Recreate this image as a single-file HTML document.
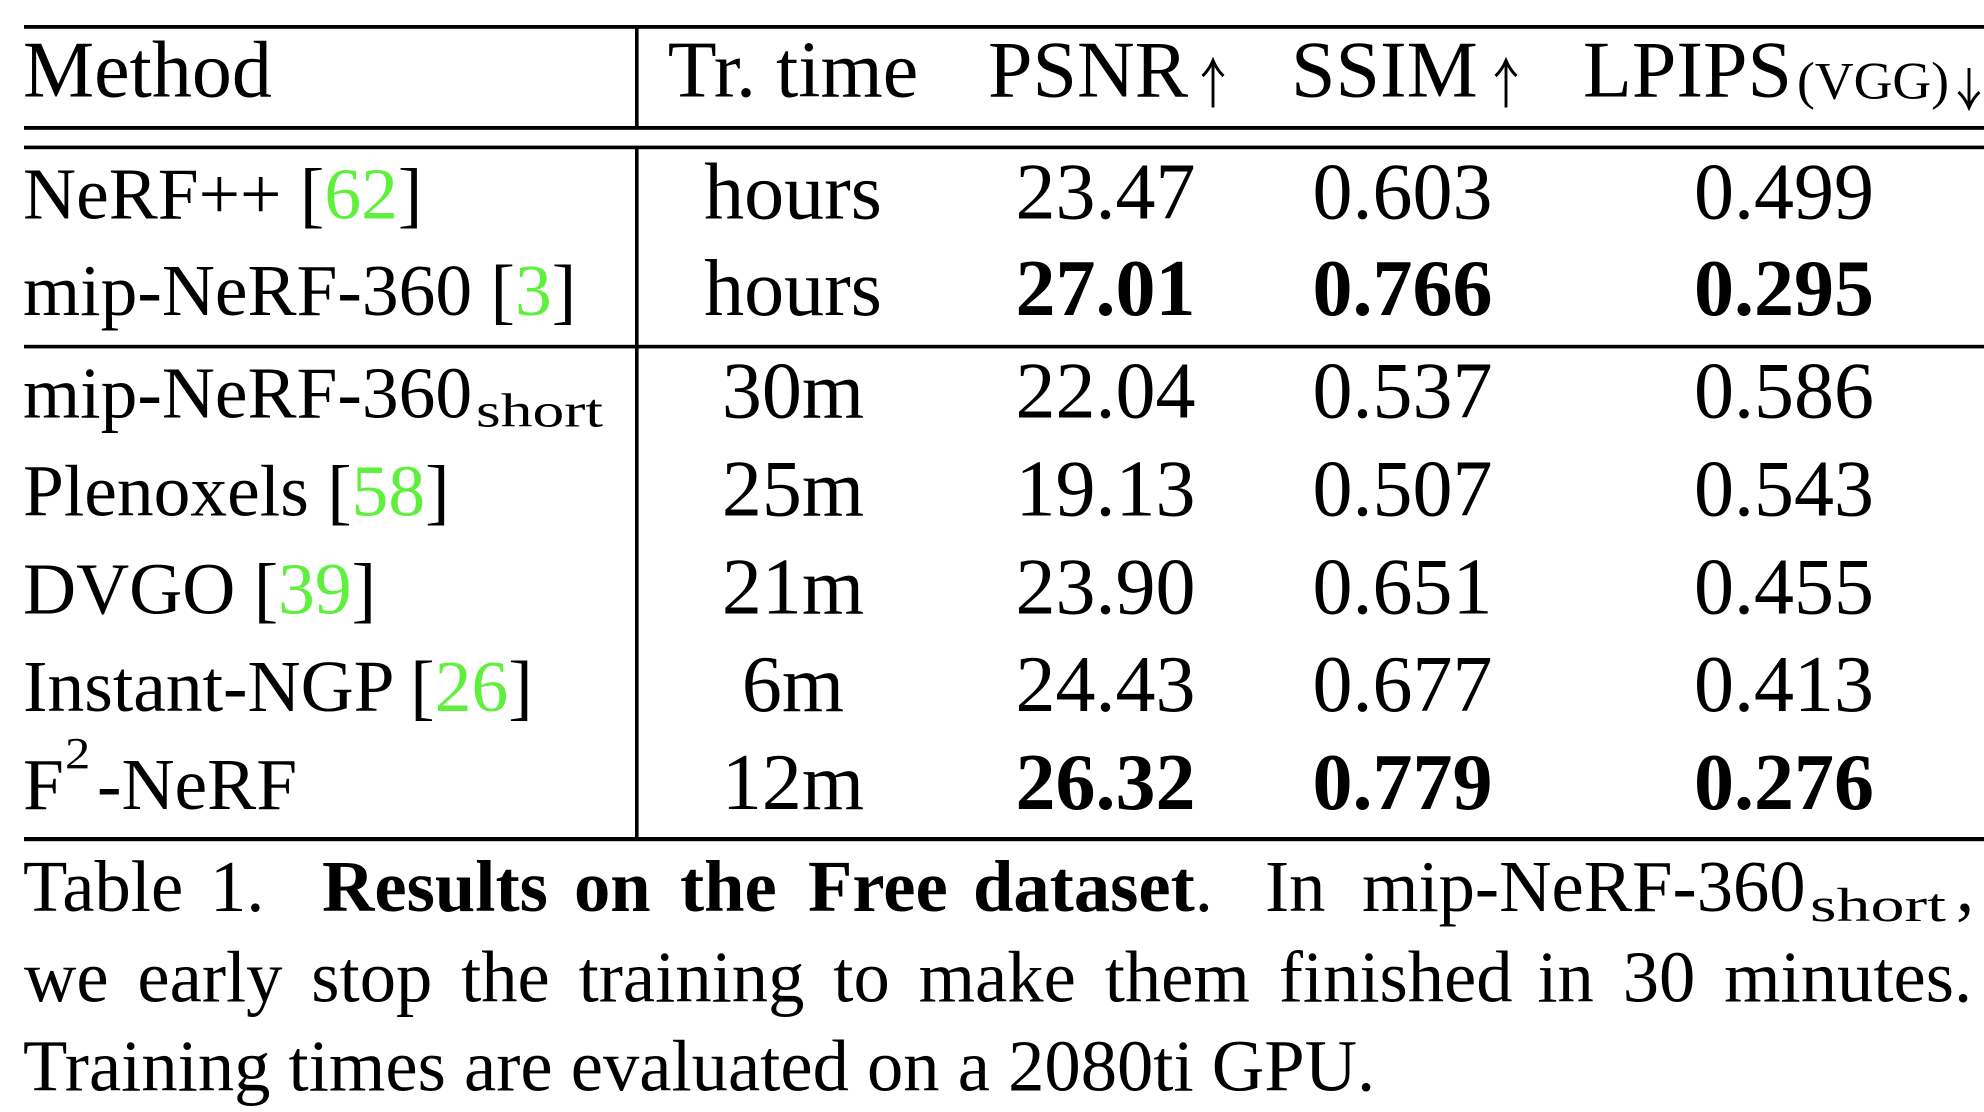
<!DOCTYPE html>
<html>
<head>
<meta charset="utf-8">
<style>
  html, body { margin: 0; padding: 0; background: #ffffff; }
  svg { display: block; }
  text { font-family: "Liberation Serif", "Times New Roman", serif; fill: #000; }
  .g { fill: #5ef03c; }
</style>
</head>
<body>
<svg width="1984" height="1112" viewBox="0 0 1984 1112" xmlns="http://www.w3.org/2000/svg">
  <rect x="0" y="0" width="1984" height="1112" fill="#ffffff"/>

  <!-- horizontal rules -->
  <rect x="24" y="25" width="1960" height="3.8" fill="#000"/>
  <rect x="24" y="126" width="1960" height="3.8" fill="#000"/>
  <rect x="24" y="145.6" width="1960" height="3.6" fill="#000"/>
  <rect x="24" y="344.8" width="1960" height="3.6" fill="#000"/>
  <rect x="24" y="837" width="1960" height="4.2" fill="#000"/>

  <!-- vertical rule -->
  <rect x="635" y="28" width="3.6" height="99" fill="#000"/>
  <rect x="635" y="148" width="3.6" height="690" fill="#000"/>

  <!-- header -->
  <text x="23" y="96.5" font-size="80">Method</text>
  <text x="793" y="96.5" font-size="80" text-anchor="middle">Tr. time</text>
  <text x="988" y="96.5" font-size="80">PSNR</text>
  <path d="M1213 63 L1213 107.5 M1202.5 76 Q1209 70 1213 60.5 Q1217 70 1223.5 76" fill="none" stroke="#000" stroke-width="2.9"/>
  <text x="1291" y="96.5" font-size="80">SSIM</text>
  <path d="M1506 63 L1506 107.5 M1495.5 76 Q1502 70 1506 60.5 Q1510 70 1516.5 76" fill="none" stroke="#000" stroke-width="2.9"/>
  <text x="1583" y="96.5" font-size="80">LPIPS</text>
  <text x="1797" y="98.5" font-size="53" textLength="152" lengthAdjust="spacingAndGlyphs">(VGG)</text>
  <path d="M1969 68 L1969 105 M1958.5 92 Q1965 98 1969 107.5 Q1973 98 1979.5 92" fill="none" stroke="#000" stroke-width="2.9"/>

  <!-- group 1 -->
  <text x="23" y="218.5" font-size="73.5">NeRF++ [<tspan class="g">62</tspan>]</text>
  <text x="793" y="218.5" font-size="80" text-anchor="middle">hours</text>
  <text x="1105.5" y="218.5" font-size="80" text-anchor="middle">23.47</text>
  <text x="1402.5" y="218.5" font-size="80" text-anchor="middle">0.603</text>
  <text x="1784" y="218.5" font-size="80" text-anchor="middle">0.499</text>

  <text x="23" y="315" font-size="73.5">mip-NeRF-360 [<tspan class="g">3</tspan>]</text>
  <text x="793" y="315" font-size="80" text-anchor="middle">hours</text>
  <text x="1105.5" y="315" font-size="80" text-anchor="middle" font-weight="bold">27.01</text>
  <text x="1402.5" y="315" font-size="80" text-anchor="middle" font-weight="bold">0.766</text>
  <text x="1784" y="315" font-size="80" text-anchor="middle" font-weight="bold">0.295</text>

  <!-- group 2 -->
  <text x="23" y="417.3" font-size="73.5">mip-NeRF-360</text>
  <text x="476" y="426.5" font-size="48" textLength="127" lengthAdjust="spacingAndGlyphs">short</text>
  <text x="793" y="417.3" font-size="80" text-anchor="middle">30m</text>
  <text x="1105.5" y="417.3" font-size="80" text-anchor="middle">22.04</text>
  <text x="1402.5" y="417.3" font-size="80" text-anchor="middle">0.537</text>
  <text x="1784" y="417.3" font-size="80" text-anchor="middle">0.586</text>

  <text x="23" y="515.5" font-size="73.5">Plenoxels [<tspan class="g">58</tspan>]</text>
  <text x="793" y="515.5" font-size="80" text-anchor="middle">25m</text>
  <text x="1105.5" y="515.5" font-size="80" text-anchor="middle">19.13</text>
  <text x="1402.5" y="515.5" font-size="80" text-anchor="middle">0.507</text>
  <text x="1784" y="515.5" font-size="80" text-anchor="middle">0.543</text>

  <text x="23" y="613.3" font-size="73.5">DVGO [<tspan class="g">39</tspan>]</text>
  <text x="793" y="613.3" font-size="80" text-anchor="middle">21m</text>
  <text x="1105.5" y="613.3" font-size="80" text-anchor="middle">23.90</text>
  <text x="1402.5" y="613.3" font-size="80" text-anchor="middle">0.651</text>
  <text x="1784" y="613.3" font-size="80" text-anchor="middle">0.455</text>

  <text x="23" y="711" font-size="73.5">Instant-NGP [<tspan class="g">26</tspan>]</text>
  <text x="793" y="711" font-size="80" text-anchor="middle">6m</text>
  <text x="1105.5" y="711" font-size="80" text-anchor="middle">24.43</text>
  <text x="1402.5" y="711" font-size="80" text-anchor="middle">0.677</text>
  <text x="1784" y="711" font-size="80" text-anchor="middle">0.413</text>

  <text x="23" y="809" font-size="73.5">F</text>
  <g transform="translate(65,768) scale(1.15,1)">
    <text x="0" y="0" font-size="44">2</text>
  </g>
  <text x="97" y="809" font-size="73.5">-NeRF</text>
  <text x="793" y="809" font-size="80" text-anchor="middle">12m</text>
  <text x="1105.5" y="809" font-size="80" text-anchor="middle" font-weight="bold">26.32</text>
  <text x="1402.5" y="809" font-size="80" text-anchor="middle" font-weight="bold">0.779</text>
  <text x="1784" y="809" font-size="80" text-anchor="middle" font-weight="bold">0.276</text>

  <!-- caption line 1 -->
  <text x="23" y="911" font-size="72.6">Table</text>
  <text x="210" y="911" font-size="72.6">1.</text>
  <text x="322" y="911" font-size="72.6" font-weight="bold">Results</text>
  <text x="574" y="911" font-size="72.6" font-weight="bold">on</text>
  <text x="680" y="911" font-size="72.6" font-weight="bold">the</text>
  <text x="808" y="911" font-size="72.6" font-weight="bold">Free</text>
  <text x="973" y="911" font-size="72.6"><tspan font-weight="bold">dataset</tspan>.</text>
  <text x="1265" y="911" font-size="72.6">In</text>
  <text x="1362" y="911" font-size="72.6">mip-NeRF-360</text>
  <text x="1810" y="921" font-size="48" textLength="136" lengthAdjust="spacingAndGlyphs">short</text>
  <text x="1956" y="911" font-size="72.6">,</text>

  <!-- caption line 2 (justified) -->
  <text x="24" y="1001.7" font-size="72.6">we</text>
  <text x="137.4" y="1001.7" font-size="72.6">early</text>
  <text x="311.3" y="1001.7" font-size="72.6">stop</text>
  <text x="461.1" y="1001.7" font-size="72.6">the</text>
  <text x="578.6" y="1001.7" font-size="72.6">training</text>
  <text x="833.3" y="1001.7" font-size="72.6">to</text>
  <text x="918.6" y="1001.7" font-size="72.6">make</text>
  <text x="1104.7" y="1001.7" font-size="72.6">them</text>
  <text x="1278.7" y="1001.7" font-size="72.6">finished</text>
  <text x="1537.4" y="1001.7" font-size="72.6">in</text>
  <text x="1622.7" y="1001.7" font-size="72.6">30</text>
  <text x="1724.1" y="1001.7" font-size="72.6">minutes.</text>

  <!-- caption line 3 -->
  <text x="23" y="1090.7" font-size="72.6">Training times are evaluated on a 2080ti GPU.</text>
</svg>
</body>
</html>
